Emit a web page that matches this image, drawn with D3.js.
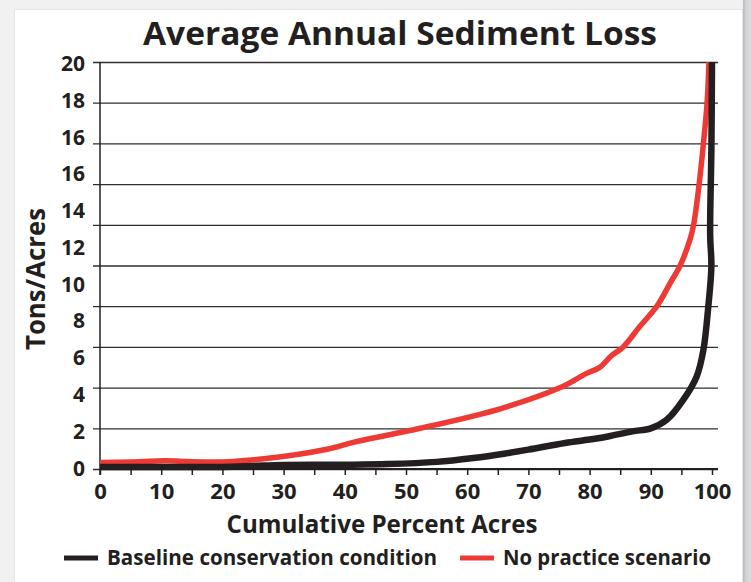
<!DOCTYPE html>
<html>
<head>
<meta charset="utf-8">
<script src="https://cdn.jsdelivr.net/npm/d3@7"></script>
<style>
    body { margin: 0; background: #f1f1f1; }
    svg { display: block; }
    text { font-family: "Open Sans", "DejaVu Sans", sans-serif; fill: #231f20; }
</style>
</head>
<body>
<svg id="chart"></svg>
<script>
// tick values / labels as printed on the original (the y labels really do repeat "16")
const xTickValues = d3.range(0, 101, 5);
const xTickLabels = [0, 10, 20, 30, 40, 50, 60, 70, 80, 90, 100];
const yGridValues = [0, 2, 4, 6, 8, 10, 12, 14, 16, 18, 20];
const yTickLabels = ["20", "18", "16", "16", "14", "12", "10", "8", "6", "4", "2", "0"];

// Baseline conservation condition
const baselinePct = [0, 10, 20, 25, 30, 40, 47, 55, 61, 66, 70, 76, 80, 83, 87, 90, 92.6, 95.3, 97.5, 98.6, 99.4, 99.9, 99.7, 99.9, 100];
const baselineTons = [0.1, 0.1, 0.1, 0.15, 0.2, 0.21, 0.24, 0.35, 0.54, 0.75, 0.95, 1.28, 1.45, 1.6, 1.85, 2.0, 2.42, 3.4, 4.55, 5.86, 8.0, 9.95, 11.5, 15.7, 20];

// No practice scenario
const noPracticePct = [0, 5, 10.7, 15, 21, 25, 30.8, 37.3, 41.7, 52.3, 65.4, 75.2, 79.5, 81.7, 83.5, 85.5, 88.2, 91, 93.1, 94.8, 96.4, 97, 97.9, 98.6, 99.2, 99.5];
const noPracticeTons = [0.32, 0.35, 0.4, 0.36, 0.36, 0.45, 0.65, 0.98, 1.33, 2.0, 2.96, 4.0, 4.7, 5.0, 5.55, 6.0, 7.0, 8.0, 9.1, 10.0, 11.27, 12.0, 14.0, 16.0, 18.0, 20];

const seriesNames = ["Baseline conservation condition", "No practice scenario"];
const seriesColors = ["#231f20", "#ee3a34"];

const W = 751, H = 582;
const margin = {top: 62, right: 39, bottom: 113, left: 100};
const width = W - margin.left - margin.right;   // 612
const height = H - margin.top - margin.bottom;  // 407

const svg = d3.select("#chart").attr("width", W).attr("height", H);

// page frame
const defs = svg.append("defs");
const grad = defs.append("linearGradient").attr("id", "edge").attr("x1", 0).attr("x2", 1);
grad.append("stop").attr("offset", 0).attr("stop-color", "#b9babc");
grad.append("stop").attr("offset", 0.4).attr("stop-color", "#d3d4d6");
grad.append("stop").attr("offset", 1).attr("stop-color", "#dcdddf");
svg.append("rect").attr("width", W).attr("height", H).attr("fill", "#f1f1f1");
svg.append("rect").attr("x", 14).attr("y", 9).attr("width", 729).attr("height", H)
    .attr("fill", "#e4e4e4");
svg.append("rect").attr("x", 15).attr("y", 10).attr("width", 727).attr("height", H)
    .attr("fill", "#ffffff");
svg.append("rect").attr("x", 743).attr("y", 0).attr("width", 8).attr("height", H)
    .attr("fill", "url(#edge)");

svg.append("text")
    .attr("x", 400).attr("y", 45)
    .attr("text-anchor", "middle")
    .attr("font-size", 33).attr("font-weight", 700)
    .attr("textLength", 514).attr("lengthAdjust", "spacingAndGlyphs")
    .text("Average Annual Sediment Loss");

const g = svg.append("g")
    .attr("transform", "translate(" + margin.left + "," + margin.top + ")");

const x = d3.scaleLinear().domain([0, 100]).range([0, width]);
const y = d3.scaleLinear().domain([0, 20]).range([height, 0]);
// labels are spread evenly over their own slots, not on the gridlines
const yLab = d3.scalePoint().domain(d3.range(yTickLabels.length)).range([1.5, height - 1]);

// gridlines (they poke out left of the axis as ticks)
g.append("g")
    .attr("transform", "translate(-7,0)")
    .call(d3.axisLeft(y).tickValues(yGridValues).tickSize(-(width + 13)).tickFormat(""))
    .call(a => a.select(".domain").remove())
    .selectAll("line")
    .attr("stroke", "#2e2e2e").attr("stroke-width", 1.3);

// y labels
g.append("g").selectAll("text").data(yTickLabels).enter().append("text")
    .attr("x", -15)
    .attr("y", (d, i) => yLab(i))
    .attr("dy", "0.36em")
    .attr("text-anchor", "end")
    .attr("font-size", 21).attr("font-weight", 700)
    .text(d => d);

// left axis line
g.append("line")
    .attr("x1", 0).attr("x2", 0).attr("y1", 0).attr("y2", height + 6)
    .attr("stroke", "#231f20").attr("stroke-width", 1.5);

// x axis
const xAxis = g.append("g")
    .attr("transform", "translate(0," + height + ")")
    .call(d3.axisBottom(x).tickValues(xTickValues).tickSize(6).tickSizeOuter(0)
        .tickFormat(d => xTickLabels.includes(d) ? d : ""));
xAxis.select(".domain").attr("d", "M0,0H" + (width + 6))
    .attr("stroke", "#231f20").attr("stroke-width", 2);
xAxis.selectAll("line").attr("stroke", "#231f20").attr("stroke-width", 1.5);
xAxis.selectAll("text")
    .attr("y", 14).attr("dy", "0.71em")
    .attr("font-size", 22).attr("font-weight", 700)
    .attr("fill", "#231f20")
    .style("font-family", "'Open Sans', sans-serif");

g.append("text")
    .attr("x", 282).attr("y", height + 64)
    .attr("text-anchor", "middle")
    .attr("font-size", 25).attr("font-weight", 700)
    .attr("textLength", 311).attr("lengthAdjust", "spacingAndGlyphs")
    .text("Cumulative Percent Acres");

svg.append("text")
    .attr("transform", "translate(45,279) rotate(-90)")
    .attr("text-anchor", "middle")
    .attr("font-size", 26).attr("font-weight", 700)
    .attr("textLength", 142).attr("lengthAdjust", "spacingAndGlyphs")
    .text("Tons/Acres");

// curves
const line = d3.line()
    .x(d => x(d[0]))
    .y(d => y(d[1]))
    .curve(d3.curveCatmullRom.alpha(0.5));

const series = [
    {pct: noPracticePct, tons: noPracticeTons, color: seriesColors[1], w: 5.5},
    {pct: baselinePct, tons: baselineTons, color: seriesColors[0], w: 6.5}
];
series.forEach(s => {
    g.append("path")
        .datum(s.pct.map((p, i) => [p, s.tons[i]]))
        .attr("fill", "none")
        .attr("stroke", s.color)
        .attr("stroke-width", s.w)
        .attr("stroke-linejoin", "round")
        .attr("d", line);
});

// legend
const legend = svg.append("g").attr("transform", "translate(0,558)");
const legendX = [64, 460];
const legendLen = [330, 208];
seriesNames.forEach((name, i) => {
    legend.append("line")
        .attr("x1", legendX[i]).attr("x2", legendX[i] + 34)
        .attr("stroke", seriesColors[i]).attr("stroke-width", 5);
    legend.append("text")
        .attr("x", legendX[i] + 43).attr("y", 0)
        .attr("dy", "0.35em")
        .attr("font-size", 21).attr("font-weight", 700)
        .attr("textLength", legendLen[i]).attr("lengthAdjust", "spacingAndGlyphs")
        .text(name);
});
</script>
</body>
</html>
